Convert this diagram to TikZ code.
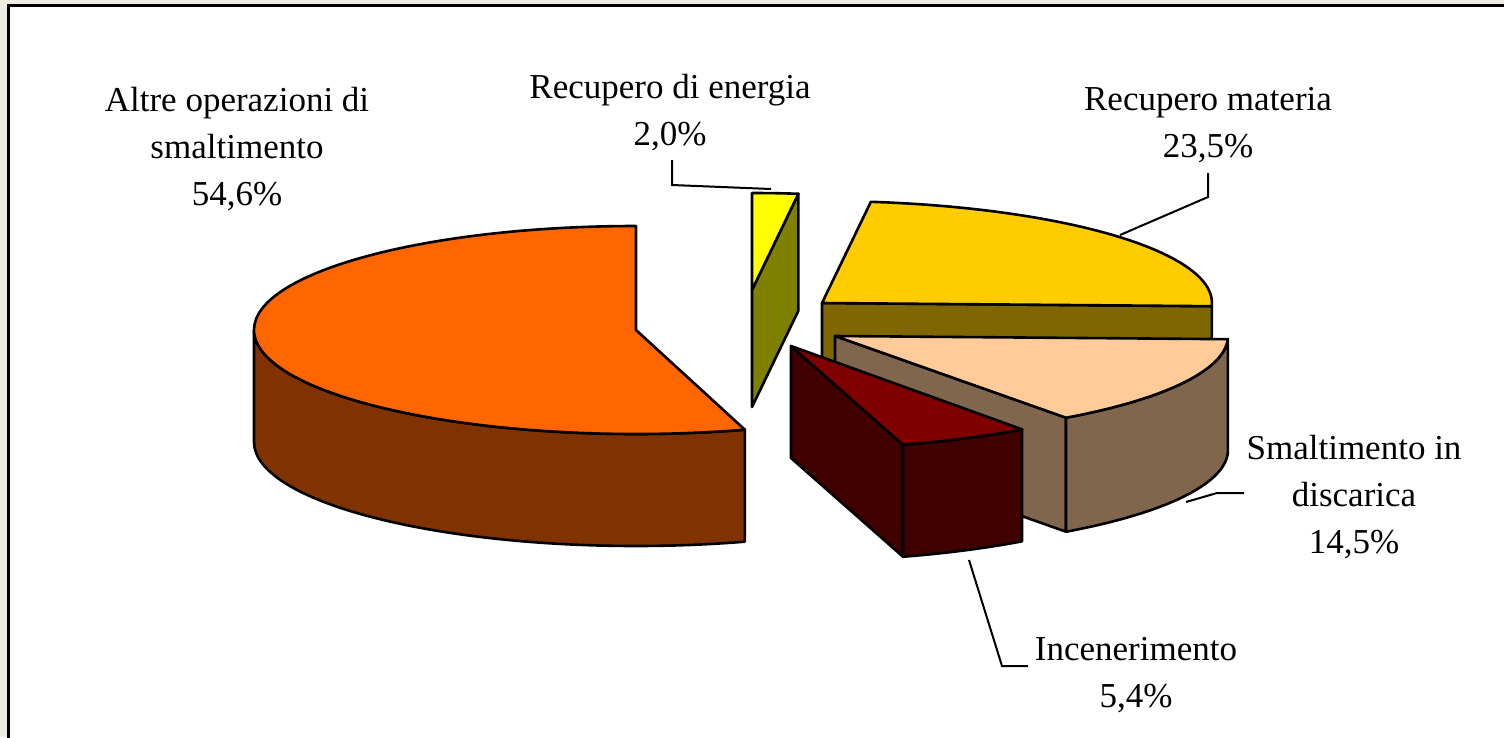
\documentclass[tikz,border=0pt]{standalone}
\usepackage{fontspec}
\setmainfont{Liberation Serif}
\definecolor{bgbeige}{RGB}{238,235,227}
\definecolor{ortop}{HTML}{FF6600}
\definecolor{orside}{HTML}{803300}
\definecolor{yetop}{HTML}{FFFF00}
\definecolor{yeside}{HTML}{808000}
\definecolor{gotop}{HTML}{FFCC00}
\definecolor{goside}{HTML}{806600}
\definecolor{petop}{HTML}{FFCC99}
\definecolor{peside}{HTML}{80664D}
\definecolor{drtop}{HTML}{800000}
\definecolor{drside}{HTML}{400000}
\begin{document}
\begin{tikzpicture}[x=1pt,y=-1pt,
  edge/.style={draw=black,line width=2.6pt,line join=round},
  lbl/.style={align=center,inner sep=0pt,anchor=base,font=\fontsize{35}{47}\selectfont},
  leader/.style={draw=black,line width=2pt,line join=miter}]
\useasboundingbox (0,0) rectangle (1504,737);
\fill[bgbeige] (0,0) rectangle (1504,737);
\draw[fill=white,line width=2.5pt] (8.7,5.3) rectangle (1530,760);

% ---- Altre operazioni di smaltimento (orange) ----
\coordinate (Co) at (636,330);
\path[edge,fill=orside] ([shift={(Co)}]-180:382 and 104)
  arc[start angle=-180,end angle=-286.56,x radius=382,y radius=104]
  -- ++(0,112)
  arc[start angle=-286.56,end angle=-180,x radius=382,y radius=104] -- cycle;
\path[edge,fill=ortop] (Co) -- ([shift={(Co)}]-90:382 and 104)
  arc[start angle=-90,end angle=-286.56,x radius=382,y radius=104] -- cycle;

% ---- Recupero di energia (yellow) ----
\coordinate (Cy) at (752,290);
\path[edge,fill=yeside] (Cy) -- ([shift={(Cy)}]-82.8:370 and 97) -- ++(0,117) -- ([shift={(0,117)}]Cy) -- cycle;
\path[edge,fill=yetop] (Cy) -- ([shift={(Cy)}]-90:370 and 97)
  arc[start angle=-90,end angle=-82.8,x radius=370,y radius=97] -- cycle;

% ---- Recupero materia (gold) ----
\coordinate (Cg) at (822,303);
\path[edge,fill=goside] (Cg) -- ([shift={(Cg)}]1.8:390 and 102) -- ++(0,115) -- ([shift={(0,115)}]Cg) -- cycle;
\path[edge,fill=gotop] (Cg) -- ([shift={(Cg)}]-82.8:390 and 102)
  arc[start angle=-82.8,end angle=1.8,x radius=390,y radius=102] -- cycle;

% ---- Smaltimento in discarica (peach) ----
\coordinate (Cp) at (835,336);
\path[edge,fill=peside] (Cp) -- ([shift={(Cp)}]54:393 and 101) -- ++(0,114) -- ([shift={(0,114)}]Cp) -- cycle;
\path[edge,fill=peside] ([shift={(Cp)}]1.8:393 and 101)
  arc[start angle=1.8,end angle=54,x radius=393,y radius=101]
  -- ++(0,114)
  arc[start angle=54,end angle=1.8,x radius=393,y radius=101] -- cycle;
\path[edge,fill=petop] (Cp) -- ([shift={(Cp)}]1.8:393 and 101)
  arc[start angle=1.8,end angle=54,x radius=393,y radius=101] -- cycle;

% ---- Incenerimento (dark red) ----
\coordinate (Cd) at (791,346);
\path[edge,fill=drside] (Cd) -- ([shift={(Cd)}]73.44:393 and 103) -- ++(0,112) -- ([shift={(0,112)}]Cd) -- cycle;
\path[edge,fill=drside] ([shift={(Cd)}]54:393 and 103)
  arc[start angle=54,end angle=73.44,x radius=393,y radius=103]
  -- ++(0,112)
  arc[start angle=73.44,end angle=54,x radius=393,y radius=103] -- cycle;
\path[edge,fill=drtop] (Cd) -- ([shift={(Cd)}]54:393 and 103)
  arc[start angle=54,end angle=73.44,x radius=393,y radius=103] -- cycle;

% ---- labels (anchor = baseline of last line) ----
\node[lbl] (lAltre) at (237,205) {Altre operazioni di\\smaltimento\\54,6\%};
\node[lbl] (lEnergia) at (670,145) {Recupero di energia\\2,0\%};
\node[lbl] (lMateria) at (1208,157) {Recupero materia\\23,5\%};
\node[lbl] (lDiscarica) at (1354,553) {Smaltimento in\\discarica\\14,5\%};
\node[lbl] (lIncen) at (1136,707) {Incenerimento\\5,4\%};

% ---- leader lines ----
\coordinate (eA) at (672,160); \coordinate (eB) at (672,185); \coordinate (eC) at (771,189);
\draw[leader] (eA) -- (eB) -- (eC);
\coordinate (mA) at (1208,173); \coordinate (mB) at (1208,197); \coordinate (mC) at (1120,235);
\draw[leader] (mA) -- (mB) -- (mC);
\coordinate (dA) at (1244,493); \coordinate (dB) at (1217,493); \coordinate (dC) at (1186,502);
\draw[leader] (dA) -- (dB) -- (dC);
\coordinate (iA) at (969,560); \coordinate (iB) at (1002,666); \coordinate (iC) at (1028,666);
\draw[leader] (iA) -- (iB) -- (iC);
\end{tikzpicture}
\end{document}
